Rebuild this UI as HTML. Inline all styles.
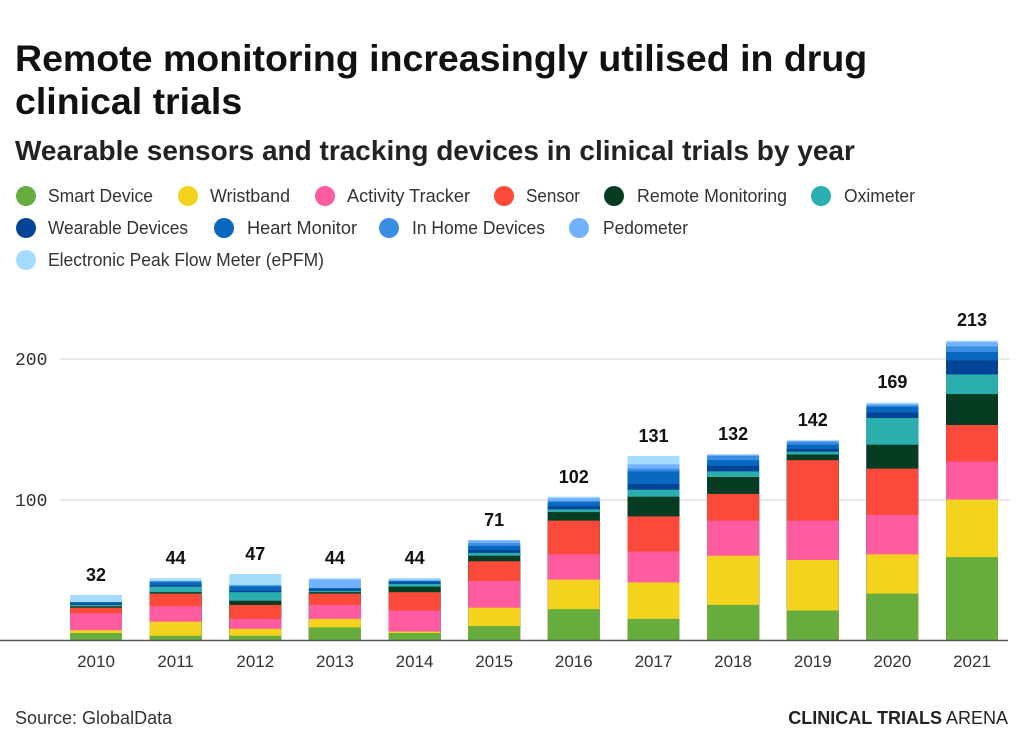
<!DOCTYPE html>
<html><head><meta charset="utf-8"><style>
body{margin:0;background:#fff;width:1024px;height:747px;overflow:hidden;font-family:"Liberation Sans",sans-serif}
</style></head><body>
<svg width="1024" height="747" xmlns="http://www.w3.org/2000/svg" font-family="Liberation Sans, sans-serif">
<text x="15" y="71" font-size="37.5" font-weight="bold" fill="#111">Remote monitoring increasingly utilised in drug</text>
<text x="15" y="114" font-size="37.5" font-weight="bold" fill="#111">clinical trials</text>
<text x="15" y="160" font-size="28" font-weight="bold" fill="#222">Wearable sensors and tracking devices in clinical trials by year</text>
<g font-size="18" fill="#333" lengthAdjust="spacingAndGlyphs">
<circle cx="26" cy="196" r="10" fill="#67ad3d"/><text x="48" y="202" textLength="105" lengthAdjust="spacingAndGlyphs">Smart Device</text>
<circle cx="188" cy="196" r="10" fill="#f4d31f"/><text x="210" y="202" textLength="80" lengthAdjust="spacingAndGlyphs">Wristband</text>
<circle cx="325" cy="196" r="10" fill="#fe5ba0"/><text x="347" y="202" textLength="123" lengthAdjust="spacingAndGlyphs">Activity Tracker</text>
<circle cx="504" cy="196" r="10" fill="#fb4a3a"/><text x="526" y="202" textLength="54" lengthAdjust="spacingAndGlyphs">Sensor</text>
<circle cx="614" cy="196" r="10" fill="#063c22"/><text x="637" y="202" textLength="150" lengthAdjust="spacingAndGlyphs">Remote Monitoring</text>
<circle cx="821" cy="196" r="10" fill="#2aaeae"/><text x="844" y="202" textLength="71" lengthAdjust="spacingAndGlyphs">Oximeter</text>
<circle cx="26" cy="228" r="10" fill="#034496"/><text x="48" y="234" textLength="140" lengthAdjust="spacingAndGlyphs">Wearable Devices</text>
<circle cx="224" cy="228" r="10" fill="#0867be"/><text x="247" y="234" textLength="110" lengthAdjust="spacingAndGlyphs">Heart Monitor</text>
<circle cx="389" cy="228" r="10" fill="#3a8de2"/><text x="412" y="234" textLength="133" lengthAdjust="spacingAndGlyphs">In Home Devices</text>
<circle cx="579" cy="228" r="10" fill="#71b1fd"/><text x="603" y="234" textLength="85" lengthAdjust="spacingAndGlyphs">Pedometer</text>
<circle cx="26" cy="260" r="10" fill="#a3dcfd"/><text x="48" y="266" textLength="276" lengthAdjust="spacingAndGlyphs">Electronic Peak Flow Meter (ePFM)</text>
</g>
<line x1="60" y1="359" x2="1010" y2="359" stroke="#e2e2e2" stroke-width="1.5"/>
<line x1="60" y1="500" x2="1010" y2="500" stroke="#e2e2e2" stroke-width="1.5"/>
<g font-family="Liberation Mono, monospace" font-size="18" fill="#333">
<text x="15" y="365">200</text><text x="15" y="506">100</text>
</g>
<g font-size="18" font-weight="bold" fill="#111" text-anchor="middle">
<text x="96" y="581">32</text><text x="175.6" y="564">44</text><text x="255.3" y="560">47</text><text x="334.9" y="564">44</text><text x="414.6" y="564">44</text><text x="494.2" y="526">71</text><text x="573.8" y="483">102</text><text x="653.5" y="442">131</text><text x="733.1" y="440">132</text><text x="812.8" y="426">142</text><text x="892.4" y="388">169</text><text x="972" y="326">213</text>
</g>
<g font-size="17" fill="#333" text-anchor="middle">
<text x="96" y="667">2010</text><text x="175.6" y="667">2011</text><text x="255.3" y="667">2012</text><text x="334.9" y="667">2013</text><text x="414.6" y="667">2014</text><text x="494.2" y="667">2015</text><text x="573.8" y="667">2016</text><text x="653.5" y="667">2017</text><text x="733.1" y="667">2018</text><text x="812.8" y="667">2019</text><text x="892.4" y="667">2020</text><text x="972" y="667">2021</text>
</g>
<g transform="translate(70,0)">
<rect y="595" width="52" height="45" fill="#a3dcfd"/><rect y="602.1" width="52" height="37.9" fill="#0867be"/><rect y="603.5" width="52" height="36.5" fill="#034496"/><rect y="604.9" width="52" height="35.1" fill="#2aaeae"/><rect y="606.3" width="52" height="33.7" fill="#063c22"/><rect y="607.7" width="52" height="32.3" fill="#fb4a3a"/><rect y="613.3" width="52" height="26.7" fill="#fe5ba0"/><rect y="630.2" width="52" height="9.8" fill="#f4d31f"/><rect y="633" width="52" height="7" fill="#67ad3d"/>
</g>
<g transform="translate(149.6,0)">
<rect y="578.2" width="52" height="61.8" fill="#a3dcfd"/><rect y="581" width="52" height="59" fill="#3a8de2"/><rect y="582.4" width="52" height="57.6" fill="#0867be"/><rect y="585.2" width="52" height="54.8" fill="#034496"/><rect y="586.6" width="52" height="53.4" fill="#2aaeae"/><rect y="592.2" width="52" height="47.8" fill="#063c22"/><rect y="593.6" width="52" height="46.4" fill="#fb4a3a"/><rect y="606.3" width="52" height="33.7" fill="#fe5ba0"/><rect y="621.7" width="52" height="18.3" fill="#f4d31f"/><rect y="635.8" width="52" height="4.2" fill="#67ad3d"/>
</g>
<g transform="translate(229.3,0)">
<rect y="574" width="52" height="66" fill="#a3dcfd"/><rect y="585.2" width="52" height="54.8" fill="#3a8de2"/><rect y="586.6" width="52" height="53.4" fill="#0867be"/><rect y="590.8" width="52" height="49.2" fill="#034496"/><rect y="592.2" width="52" height="47.8" fill="#2aaeae"/><rect y="600.7" width="52" height="39.3" fill="#063c22"/><rect y="604.9" width="52" height="35.1" fill="#fb4a3a"/><rect y="618.9" width="52" height="21.1" fill="#fe5ba0"/><rect y="628.8" width="52" height="11.2" fill="#f4d31f"/><rect y="635.8" width="52" height="4.2" fill="#67ad3d"/>
</g>
<g transform="translate(308.9,0)">
<rect y="578.2" width="52" height="61.8" fill="#a3dcfd"/><rect y="579.6" width="52" height="60.4" fill="#71b1fd"/><rect y="588" width="52" height="52" fill="#0867be"/><rect y="589.4" width="52" height="50.6" fill="#034496"/><rect y="590.8" width="52" height="49.2" fill="#2aaeae"/><rect y="592.2" width="52" height="47.8" fill="#063c22"/><rect y="593.6" width="52" height="46.4" fill="#fb4a3a"/><rect y="604.9" width="52" height="35.1" fill="#fe5ba0"/><rect y="618.9" width="52" height="21.1" fill="#f4d31f"/><rect y="627.4" width="52" height="12.6" fill="#67ad3d"/>
</g>
<g transform="translate(388.6,0)">
<rect y="578.2" width="52" height="61.8" fill="#a3dcfd"/><rect y="579.6" width="52" height="60.4" fill="#71b1fd"/><rect y="581" width="52" height="59" fill="#0867be"/><rect y="582.4" width="52" height="57.6" fill="#034496"/><rect y="583.8" width="52" height="56.2" fill="#2aaeae"/><rect y="586.6" width="52" height="53.4" fill="#063c22"/><rect y="592.2" width="52" height="47.8" fill="#fb4a3a"/><rect y="610.5" width="52" height="29.5" fill="#fe5ba0"/><rect y="631.6" width="52" height="8.4" fill="#f4d31f"/><rect y="633" width="52" height="7" fill="#67ad3d"/>
</g>
<g transform="translate(468.2,0)">
<rect y="540.2" width="52" height="99.8" fill="#71b1fd"/><rect y="543.1" width="52" height="96.9" fill="#3a8de2"/><rect y="545.9" width="52" height="94.1" fill="#0867be"/><rect y="550.1" width="52" height="89.9" fill="#034496"/><rect y="552.9" width="52" height="87.1" fill="#2aaeae"/><rect y="555.7" width="52" height="84.3" fill="#063c22"/><rect y="561.3" width="52" height="78.7" fill="#fb4a3a"/><rect y="581" width="52" height="59" fill="#fe5ba0"/><rect y="607.7" width="52" height="32.3" fill="#f4d31f"/><rect y="626" width="52" height="14" fill="#67ad3d"/>
</g>
<g transform="translate(547.8,0)">
<rect y="496.7" width="52" height="143.3" fill="#a3dcfd"/><rect y="498.1" width="52" height="141.9" fill="#71b1fd"/><rect y="500.9" width="52" height="139.1" fill="#3a8de2"/><rect y="502.3" width="52" height="137.7" fill="#0867be"/><rect y="506.5" width="52" height="133.5" fill="#034496"/><rect y="509.3" width="52" height="130.7" fill="#2aaeae"/><rect y="512.1" width="52" height="127.9" fill="#063c22"/><rect y="520.6" width="52" height="119.4" fill="#fb4a3a"/><rect y="554.3" width="52" height="85.7" fill="#fe5ba0"/><rect y="579.6" width="52" height="60.4" fill="#f4d31f"/><rect y="609.1" width="52" height="30.9" fill="#67ad3d"/>
</g>
<g transform="translate(627.5,0)">
<rect y="455.9" width="52" height="184.1" fill="#a3dcfd"/><rect y="464.4" width="52" height="175.6" fill="#71b1fd"/><rect y="468.6" width="52" height="171.4" fill="#3a8de2"/><rect y="471.4" width="52" height="168.6" fill="#0867be"/><rect y="484" width="52" height="156" fill="#034496"/><rect y="489.7" width="52" height="150.3" fill="#2aaeae"/><rect y="496.7" width="52" height="143.3" fill="#063c22"/><rect y="516.4" width="52" height="123.6" fill="#fb4a3a"/><rect y="551.5" width="52" height="88.5" fill="#fe5ba0"/><rect y="582.4" width="52" height="57.6" fill="#f4d31f"/><rect y="618.9" width="52" height="21.1" fill="#67ad3d"/>
</g>
<g transform="translate(707.1,0)">
<rect y="454.5" width="52" height="185.5" fill="#71b1fd"/><rect y="456" width="52" height="184" fill="#3a8de2"/><rect y="460.2" width="52" height="179.8" fill="#0867be"/><rect y="465.8" width="52" height="174.2" fill="#034496"/><rect y="471.4" width="52" height="168.6" fill="#2aaeae"/><rect y="477" width="52" height="163" fill="#063c22"/><rect y="493.9" width="52" height="146.1" fill="#fb4a3a"/><rect y="520.6" width="52" height="119.4" fill="#fe5ba0"/><rect y="555.7" width="52" height="84.3" fill="#f4d31f"/><rect y="604.9" width="52" height="35.1" fill="#67ad3d"/>
</g>
<g transform="translate(786.8,0)">
<rect y="440.5" width="52" height="199.5" fill="#71b1fd"/><rect y="441.9" width="52" height="198.1" fill="#3a8de2"/><rect y="444.7" width="52" height="195.3" fill="#0867be"/><rect y="448.9" width="52" height="191.1" fill="#034496"/><rect y="451.7" width="52" height="188.3" fill="#2aaeae"/><rect y="454.5" width="52" height="185.5" fill="#063c22"/><rect y="460.2" width="52" height="179.8" fill="#fb4a3a"/><rect y="520.6" width="52" height="119.4" fill="#fe5ba0"/><rect y="559.9" width="52" height="80.1" fill="#f4d31f"/><rect y="610.5" width="52" height="29.5" fill="#67ad3d"/>
</g>
<g transform="translate(866.4,0)">
<rect y="402.6" width="52" height="237.4" fill="#a3dcfd"/><rect y="404" width="52" height="236" fill="#71b1fd"/><rect y="405.4" width="52" height="234.6" fill="#3a8de2"/><rect y="406.8" width="52" height="233.2" fill="#0867be"/><rect y="412.4" width="52" height="227.6" fill="#034496"/><rect y="418" width="52" height="222" fill="#2aaeae"/><rect y="444.7" width="52" height="195.3" fill="#063c22"/><rect y="468.6" width="52" height="171.4" fill="#fb4a3a"/><rect y="514.9" width="52" height="125.1" fill="#fe5ba0"/><rect y="554.3" width="52" height="85.7" fill="#f4d31f"/><rect y="593.6" width="52" height="46.4" fill="#67ad3d"/>
</g>
<g transform="translate(946,0)">
<rect y="340.7" width="52" height="299.3" fill="#a3dcfd"/><rect y="342.1" width="52" height="297.9" fill="#71b1fd"/><rect y="346.4" width="52" height="293.6" fill="#3a8de2"/><rect y="352" width="52" height="288" fill="#0867be"/><rect y="360.4" width="52" height="279.6" fill="#034496"/><rect y="374.5" width="52" height="265.5" fill="#2aaeae"/><rect y="394.1" width="52" height="245.9" fill="#063c22"/><rect y="425" width="52" height="215" fill="#fb4a3a"/><rect y="461.6" width="52" height="178.4" fill="#fe5ba0"/><rect y="499.5" width="52" height="140.5" fill="#f4d31f"/><rect y="557.1" width="52" height="82.9" fill="#67ad3d"/>
</g>
<line x1="0" y1="640.5" x2="1008" y2="640.5" stroke="#555" stroke-width="1.5"/>
<text x="15" y="724" font-size="18" fill="#333">Source: GlobalData</text>
<text x="1008" y="724" font-size="18" fill="#222" text-anchor="end"><tspan font-weight="bold">CLINICAL TRIALS</tspan> ARENA</text>
</svg>
</body></html>
